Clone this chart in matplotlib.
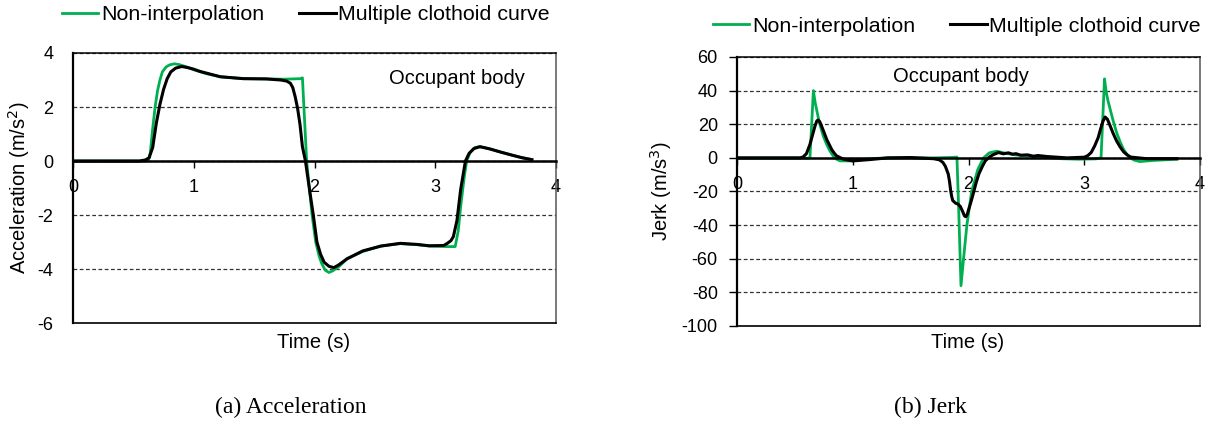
import matplotlib
matplotlib.use('Agg')
import matplotlib.pyplot as plt

plt.rcParams['font.family'] = ['Liberation Sans', 'DejaVu Sans']
plt.rcParams['axes.unicode_minus'] = False

# acceleration, non-interpolation
acc_t_raw = [0, 0.5, 0.6, 0.625, 0.64, 0.66, 0.68, 0.7, 0.72, 0.74, 0.77, 0.8, 0.84, 0.88,
             0.93, 1.0, 1.1, 1.22, 1.41, 1.6, 1.75, 1.885, 1.9, 1.935, 1.98, 2.01, 2.04,
             2.06, 2.09, 2.12, 2.15, 2.2, 2.27, 2.4, 2.55, 2.71, 2.85, 2.95, 3.1, 3.165,
             3.19, 3.21, 3.24, 3.26, 3.29, 3.33, 3.37, 3.45, 3.55, 3.65, 3.72, 3.8]
acc_raw = [0, 0, 0, 0.02, 0.3, 1.2, 2.0, 2.6, 3.0, 3.3, 3.48, 3.56, 3.6, 3.57,
           3.5, 3.38, 3.24, 3.12, 3.05, 3.04, 3.03, 3.05, 3.08, 0, -2, -3, -3.55,
           -3.8, -4.05, -4.13, -4.07, -3.92, -3.62, -3.35, -3.15, -3.06, -3.1, -3.15, -3.17, -3.17,
           -2.6, -1.7, -0.6, 0, 0.33, 0.5, 0.53, 0.45, 0.32, 0.2, 0.12, 0.05]

# acceleration, multiple clothoid curve
acc_t_clo = [0, 0.55, 0.6, 0.63, 0.66, 0.69, 0.72, 0.75, 0.78, 0.81, 0.85, 0.9, 0.95, 1.0,
             1.05, 1.22, 1.41, 1.6, 1.72, 1.77, 1.8, 1.82, 1.84, 1.86, 1.88, 1.9, 1.925,
             1.96, 1.99, 2.02, 2.05, 2.08, 2.12, 2.16, 2.2, 2.27, 2.4, 2.55, 2.71, 2.85,
             2.95, 3.07, 3.1, 3.13, 3.15, 3.18, 3.21, 3.25, 3.28, 3.32, 3.37, 3.45, 3.55,
             3.65, 3.72, 3.8]
acc_clo = [0, 0, 0.04, 0.12, 0.5, 1.4, 2.1, 2.65, 3.05, 3.3, 3.44, 3.5, 3.46, 3.4,
           3.32, 3.12, 3.05, 3.04, 3.0, 2.96, 2.88, 2.72, 2.38, 1.95, 1.35, 0.53, 0,
           -1.1, -2.0, -3.0, -3.45, -3.75, -3.9, -3.95, -3.85, -3.62, -3.33, -3.15, -3.05, -3.09,
           -3.14, -3.13, -3.05, -2.95, -2.8, -2.2, -1.07, 0, 0.28, 0.46, 0.53, 0.45, 0.32,
           0.2, 0.12, 0.05]

# jerk, non-interpolation
jerk_t_raw = [0, 0.5, 0.61, 0.63, 0.66, 0.675, 0.69, 0.705, 0.72, 0.745, 0.775, 0.8, 0.83,
              0.86, 0.89, 1.0, 1.15, 1.3, 1.5, 1.7, 1.87, 1.9, 1.915, 1.935, 1.96, 1.986,
              2.027, 2.08, 2.13, 2.18, 2.245, 2.3, 2.4, 2.5, 2.65, 2.8, 2.95, 3.1, 3.145,
              3.175, 3.19, 3.205, 3.22, 3.25, 3.28, 3.31, 3.34, 3.37, 3.395, 3.43, 3.48,
              3.6, 3.8]
jerk_raw = [0, 0, -0.2, 0, 40, 33, 28, 23, 19, 13, 8, 4.5, 1.2,
            -0.8, -1.8, -1.8, -0.5, 0, 0, 0, 0.3, 0.5, -30, -76, -58, -40,
            -20, -7, 0, 3, 4, 3, 1.8, 1.2, 0.3, -0.5, -0.8, -0.6, 0,
            47, 39, 34, 30, 22, 15, 9.5, 5, 2, 0.2, -1.3, -2.2,
            -1.5, -0.8]

# jerk, multiple clothoid curve
jerk_t_clo = [0, 0.544, 0.57, 0.6, 0.63, 0.65, 0.674, 0.69, 0.7, 0.715, 0.73, 0.75, 0.775,
              0.8, 0.818, 0.84, 0.86, 0.92, 1.0, 1.15, 1.3, 1.5, 1.7, 1.75, 1.78, 1.8,
              1.825, 1.836, 1.846, 1.855, 1.864, 1.89, 1.91, 1.93, 1.95, 1.965, 1.977,
              1.99, 2.0, 2.02, 2.04, 2.065, 2.09, 2.12, 2.145, 2.18, 2.21, 2.26, 2.3, 2.345,
              2.38, 2.41, 2.45, 2.51, 2.56, 2.6, 2.68, 2.85, 3.0, 3.03, 3.06, 3.09, 3.12,
              3.14, 3.16, 3.18, 3.2, 3.22, 3.25, 3.28, 3.31, 3.34, 3.37, 3.4, 3.54, 3.8]
jerk_clo = [0, 0, 0.5, 2.5, 8, 13, 19, 22, 22.5, 21.5, 19, 15.5, 11,
            7.5, 5, 2.8, 1.2, -0.8, -1.8, -1, 0, 0.2, -0.5, -1.2, -2.8, -5,
            -9.6, -14, -19.5, -23, -25.4, -27, -27.5, -29, -32, -34.5, -35,
            -33.5, -31, -26.5, -21.5, -15, -9.5, -5, -1.8, 0.5, 1.8, 3.2, 2.4, 3,
            2.2, 2.5, 1.6, 1.8, 1.0, 1.4, 0.8, 0, 0.4, 1.3, 3.2, 7.1, 12,
            16.9, 21.5, 24.3, 23, 19.7, 14.5, 10, 6.5, 3.6, 1.8, 0.5, -0.5, -0.5]

x_ticks = [0, 1, 2, 3, 4]
acc_ticks = [-6, -4, -2, 0, 2, 4]
jerk_ticks = [-100, -80, -60, -40, -20, 0, 20, 40, 60]

GREEN = '#00B050'
W, H = 1208, 423

fig = plt.figure(figsize=(W / 100, H / 100), dpi=100)


def box(x0, y0, x1, y1):
    return [x0 / W, 1 - y1 / H, (x1 - x0) / W, (y1 - y0) / H]


def style(ax, yticks, ylen, ypad):
    ax.set_xlim(0, 4)
    ax.set_ylim(yticks[0], yticks[-1])
    ax.set_xticks(x_ticks)
    ax.set_yticks(yticks)
    ax.spines['bottom'].set_position(('data', 0))
    ax.spines['bottom'].set_linewidth(1.8)
    ax.spines['left'].set_linewidth(1.6)
    ax.spines['top'].set_linewidth(1.1)
    ax.spines['right'].set_linewidth(1.1)
    ax.spines['right'].set_color('#555555')
    # bottom edge of the plot area
    ax.plot([0, 1], [0, 0], transform=ax.transAxes, color='black', lw=1.2,
            clip_on=False, zorder=3)
    ax.yaxis.grid(True, linestyle=(0, (3, 2)), color='#333333', lw=0.9)
    ax.set_axisbelow(True)
    ax.tick_params(axis='x', direction='out', length=5, width=1, pad=8, labelsize=13)
    ax.tick_params(axis='y', direction='out', length=ylen, width=1, pad=ypad, labelsize=13)


ax1 = fig.add_axes(box(73, 53, 556, 323))
style(ax1, acc_ticks, 0, 14)
ax1.plot(acc_t_raw, acc_raw, color=GREEN, lw=2.0, label='Non-interpolation')
ax1.plot(acc_t_clo, acc_clo, color='black', lw=2.2, label='Multiple clothoid curve')

ax2 = fig.add_axes(box(737, 57, 1200, 326))
style(ax2, jerk_ticks, 5.8, 8)
ax2.plot(jerk_t_raw, jerk_raw, color=GREEN, lw=2.0, label='Non-interpolation')
ax2.plot(jerk_t_clo, jerk_clo, color='black', lw=2.2, label='Multiple clothoid curve')

for ax, (lx, ly) in ((ax1, (62, 15)), (ax2, (713, 26))):
    ax.legend(loc='center left', bbox_to_anchor=(lx / W, 1 - ly / H),
              bbox_transform=fig.transFigure, ncol=2, frameon=False, fontsize=15.4,
              handlelength=1.7, handletextpad=0.12, columnspacing=1.65,
              borderpad=0, borderaxespad=0)

# labels and captions
fig.text(457 / W, 1 - 78 / H, 'Occupant body', ha='center', va='center', fontsize=14.5)
fig.text(961 / W, 1 - 76 / H, 'Occupant body', ha='center', va='center', fontsize=14.5)
fig.text(314 / W, 1 - 342 / H, 'Time (s)', ha='center', va='center', fontsize=14.5)
fig.text(968 / W, 1 - 343 / H, 'Time (s)', ha='center', va='center', fontsize=14.5)
fig.text(19 / W, 1 - 188 / H, 'Acceleration (m/s$^2$)', rotation=90, ha='center',
         va='center', fontsize=14.5)
fig.text(661 / W, 1 - 191 / H, 'Jerk (m/s$^3$)', rotation=90, ha='center',
         va='center', fontsize=14.5)
fig.text(291 / W, 1 - 407 / H, '(a) Acceleration', ha='center', va='center',
         fontsize=17, family='Liberation Serif')
fig.text(930 / W, 1 - 407 / H, '(b) Jerk', ha='center', va='center',
         fontsize=17, family='Liberation Serif')

fig.savefig('out.png', dpi=100)
